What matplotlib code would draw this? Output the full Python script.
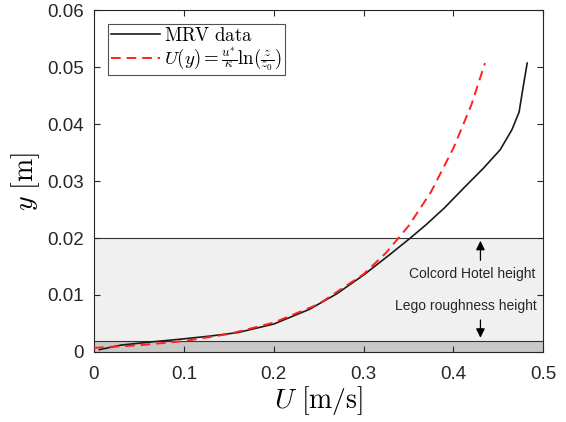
import matplotlib
matplotlib.use("Agg")
import matplotlib.pyplot as plt

plt.rcParams['mathtext.fontset'] = 'cm'
plt.rcParams['font.family'] = ['Liberation Sans', 'DejaVu Sans']

# MRV data
mrv_u = [0.006, 0.03, 0.06, 0.10, 0.13, 0.16, 0.20, 0.24, 0.27, 0.30, 0.33, 0.352,
         0.37, 0.39, 0.411, 0.433, 0.452, 0.465, 0.473, 0.4775, 0.482]
mrv_y = [0.0004, 0.0012, 0.0017, 0.0023, 0.0028, 0.0034, 0.0049, 0.0075, 0.0102,
         0.0135, 0.0172, 0.0200, 0.0224, 0.0253, 0.0287, 0.0322, 0.0355, 0.0390,
         0.0421, 0.0465, 0.0507]

# Log-law fit
fit_u = [0.0, 0.05, 0.10, 0.15, 0.20, 0.25, 0.30, 0.325, 0.35, 0.375, 0.40, 0.42, 0.435]
fit_y = [0.00072, 0.00118, 0.00190, 0.00315, 0.00515, 0.00840, 0.01366, 0.0174, 0.0221,
         0.0281, 0.0358, 0.0434, 0.0507]

hotel_h = 0.02
lego_h = 0.002

fig = plt.figure(figsize=(5.66, 4.22), dpi=100)
ax = fig.add_axes([0.166, 0.166, 0.794, 0.810])

ax.axhspan(lego_h, hotel_h, color='#f0f0f0', zorder=0, lw=0)
ax.axhspan(0, lego_h, color='#c8c8c8', zorder=0, lw=0)
ax.axhline(hotel_h, color='#333333', lw=0.8, zorder=1)
ax.axhline(lego_h, color='#333333', lw=0.8, zorder=1)

ax.plot(mrv_u, mrv_y, color='#1a1a1a', lw=1.2, label=r'$\mathrm{MRV\ data}$', zorder=3)
ax.plot(fit_u, fit_y, color='#ff2020', lw=1.4, ls=(0, (5, 3)),
        label=r'$U(y)=\frac{u^{*}}{\kappa}\ln(\frac{z}{z_0})$', zorder=4)

arrow_kw = dict(arrowstyle='-|>,head_length=0.45,head_width=0.22', color='black', lw=0.9,
                mutation_scale=12)
ax.annotate('', xy=(0.43, hotel_h), xytext=(0.43, 0.0156), arrowprops=arrow_kw)
ax.annotate('', xy=(0.43, lego_h), xytext=(0.43, 0.0061), arrowprops=arrow_kw)
ax.text(0.421, 0.0137, 'Colcord Hotel height', ha='center', va='center', fontsize=10,
        color='#262626')
ax.text(0.414, 0.0081, 'Lego roughness height', ha='center', va='center', fontsize=10,
        color='#262626')

ax.set_xlim(0, 0.5)
ax.set_ylim(0, 0.06)
ax.set_xticks([0, 0.1, 0.2, 0.3, 0.4, 0.5])
ax.set_xticklabels(['0', '0.1', '0.2', '0.3', '0.4', '0.5'])
ax.set_yticks([0, 0.01, 0.02, 0.03, 0.04, 0.05, 0.06])
ax.set_yticklabels(['0', '0.01', '0.02', '0.03', '0.04', '0.05', '0.06'])
ax.tick_params(direction='in', top=True, right=True, labelsize=13.5, colors='#262626',
               length=4, width=0.8)
ax.tick_params(axis='x', pad=10)
ax.tick_params(axis='y', pad=7)
for s in ax.spines.values():
    s.set_color('#262626')
    s.set_linewidth(0.8)

ax.set_xlabel(r'$U\ \mathrm{[m/s]}$', fontsize=20, labelpad=1)
ax.set_ylabel(r'$y\ \mathrm{[m]}$', fontsize=20, labelpad=4)

leg = ax.legend(loc='upper left', frameon=True, fancybox=False,
                edgecolor='#262626', borderpad=0.15, handlelength=2.6, handletextpad=0.25,
                labelspacing=0.02, borderaxespad=0.75, prop={'size': 13.5})
leg.get_frame().set_linewidth(0.8)

fig.savefig('out.png', dpi=100)
